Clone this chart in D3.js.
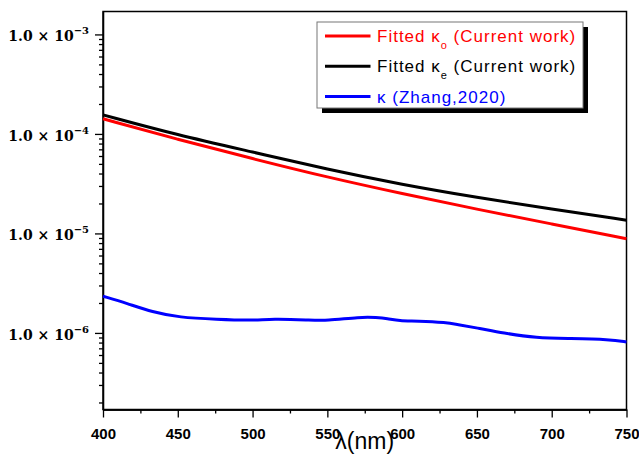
<!DOCTYPE html>
<html>
<head>
<meta charset="utf-8">
<script src="https://cdn.jsdelivr.net/npm/d3@7"></script>
<style>
  body { margin: 0; background: #fff; }
</style>
</head>
<body>
<div id="chart-area"></div>
<script>
// values
const wavelengths = [400, 450, 500, 550, 600, 650, 700, 750]
const kappaO = [1.42e-4, 8.79e-5, 5.64e-5, 3.67e-5, 2.51e-5, 1.75e-5, 1.245e-5, 8.85e-6]
const kappaE = [1.556e-4, 9.75e-5, 6.59e-5, 4.40e-5, 3.10e-5, 2.30e-5, 1.75e-5, 1.36e-5]

const zhangWavelengths = [400, 416, 433, 451, 476, 500, 513, 538, 549, 572, 583, 590, 598, 610, 630, 636, 652, 667, 690, 712, 739, 750]
const zhangKappa = [2.34e-6, 1.98e-6, 1.62e-6, 1.43e-6, 1.37e-6, 1.33e-6, 1.39e-6, 1.35e-6, 1.32e-6, 1.45e-6, 1.43e-6, 1.40e-6, 1.32e-6, 1.32e-6, 1.27e-6, 1.22e-6, 1.11e-6, 1.0e-6, 8.9e-7, 8.8e-7, 8.6e-7, 8.1e-7]

const xMajorTicks = [400, 450, 500, 550, 600, 650, 700, 750]
const xMinorTicks = [425, 475, 525, 575, 625, 675, 725]
const yExponents = [-3, -4, -5, -6]
const yDomain = [1.7e-7, 1.7e-3]

const legendLabels = [
    { name: "Fitted κ", sub: "o", rest: " (Current work)", color: "red" },
    { name: "Fitted κ", sub: "e", rest: " (Current work)", color: "black" },
    { name: "κ (Zhang,2020)", sub: "", rest: "", color: "blue" }
]

const MARGIN = { left: 103, right: 12.5, top: 11.5, bottom: 47.5 }
const WIDTH = 639 - MARGIN.left - MARGIN.right
const HEIGHT = 457 - MARGIN.top - MARGIN.bottom

const svg = d3.select("#chart-area").append("svg")
    .attr("width", 639)
    .attr("height", 457)

const g = svg.append("g")
    .attr("transform", `translate(${MARGIN.left}, ${MARGIN.top})`)

const x = d3.scaleLinear()
    .domain([400, 750])
    .range([0, WIDTH])

const y = d3.scaleLog()
    .domain(yDomain)
    .range([HEIGHT, 0])

// minor y ticks: 2..9 x 10^k inside the domain
const yMinorTicks = []
for (let e = -7; e <= -3; e++) {
    for (let m = 2; m <= 9; m++) {
        const v = m * Math.pow(10, e)
        if (v >= yDomain[0] && v <= yDomain[1]) yMinorTicks.push(v)
    }
}

// x axis
g.append("g")
    .attr("class", "x axis minor")
    .attr("transform", `translate(0, ${HEIGHT})`)
    .call(d3.axisBottom(x).tickValues(xMinorTicks).tickSize(4).tickSizeOuter(0).tickFormat(""))

const xAxis = g.append("g")
    .attr("class", "x axis")
    .attr("transform", `translate(0, ${HEIGHT})`)
    .call(d3.axisBottom(x).tickValues(xMajorTicks).tickSize(8).tickSizeOuter(0))
xAxis.selectAll("text")
    .attr("y", 29.3)
    .attr("dy", 0)
    .attr("fill", "#000")
    .attr("font-family", "Arial, 'Liberation Sans', sans-serif")
    .attr("font-weight", "bold")
    .attr("font-size", "15px")

// y axis
g.append("g")
    .attr("class", "y axis minor")
    .call(d3.axisLeft(y).tickValues(yMinorTicks).tickSize(4).tickSizeOuter(0).tickFormat(""))

const yAxis = g.append("g")
    .attr("class", "y axis")
    .call(d3.axisLeft(y).tickValues(yExponents.map(e => Math.pow(10, e))).tickSize(8).tickSizeOuter(0).tickFormat(""))

yAxis.selectAll(".tick").each(function(d) {
    const t = d3.select(this).select("text")
        .attr("x", -14)
        .attr("dy", 0)
        .attr("y", 6.5)
        .attr("fill", "#000")
        .attr("text-anchor", "end")
        .attr("font-family", "'DejaVu Serif', serif")
        .attr("font-weight", "bold")
        .attr("font-size", "14px")
    t.append("tspan").text("1.0 × 10")
    t.append("tspan")
        .attr("font-size", "10px")
        .attr("dy", -7)
        .text("−" + Math.abs(Math.round(Math.log10(d))))
})

g.selectAll(".axis path, .axis line")
    .attr("stroke", "#000")
    .attr("stroke-width", 1.3)

// frame
g.append("rect")
    .attr("width", WIDTH)
    .attr("height", HEIGHT)
    .attr("fill", "none")
    .attr("stroke", "#000")
    .attr("stroke-width", 1.5)

// lines
const line = d3.line()
    .x(d => x(d[0]))
    .y(d => y(d[1]))
    .curve(d3.curveBasis)

const series = [
    { pts: d3.zip(zhangWavelengths, zhangKappa), color: "blue" },
    { pts: d3.zip(wavelengths, kappaO), color: "red" },
    { pts: d3.zip(wavelengths, kappaE), color: "black" }
]

g.selectAll(".series")
    .data(series)
    .enter().append("path")
    .attr("class", "series")
    .attr("d", d => line(d.pts))
    .attr("fill", "none")
    .attr("stroke", d => d.color)
    .attr("stroke-width", 3)

// x label
svg.append("text")
    .attr("x", MARGIN.left + WIDTH / 2)
    .attr("y", 449)
    .attr("text-anchor", "middle")
    .attr("font-family", "Arial, 'Liberation Sans', sans-serif")
    .attr("font-size", "23px")
    .text("λ(nm)")

// legend
const legend = svg.append("g")
    .attr("transform", "translate(317, 22)")

legend.append("rect")
    .attr("x", 5).attr("y", 5)
    .attr("width", 266).attr("height", 86)
    .attr("fill", "#000")

legend.append("rect")
    .attr("width", 266).attr("height", 86)
    .attr("fill", "#fff")
    .attr("stroke", "#777")
    .attr("stroke-width", 1)

const rows = legend.selectAll(".row")
    .data(legendLabels)
    .enter().append("g")
    .attr("class", "row")
    .attr("transform", (d, i) => `translate(0, ${14 + i * 30.3})`)

rows.append("line")
    .attr("x1", 8).attr("x2", 53.5)
    .attr("stroke", d => d.color)
    .attr("stroke-width", 3)

const labels = rows.append("text")
    .attr("x", 60)
    .attr("y", 6)
    .attr("fill", d => d.color)
    .attr("font-family", "Arial, 'Liberation Sans', sans-serif")
    .attr("font-size", "17px")
    .attr("letter-spacing", "1px")

labels.append("tspan").text(d => d.name)
labels.filter(d => d.sub).append("tspan")
    .attr("font-size", "11px")
    .attr("dy", 7)
    .text(d => d.sub)
labels.filter(d => d.rest).append("tspan")
    .attr("dy", -7)
    .text(d => d.rest)
</script>
</body>
</html>
